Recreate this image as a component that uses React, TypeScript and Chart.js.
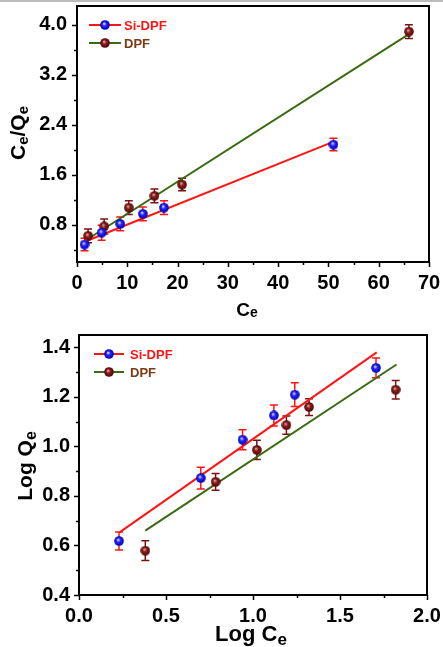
import React, { useEffect, useRef } from "react";
import { Chart, registerables } from "chart.js";

Chart.register(...registerables);

const FONT = "'Liberation Sans', Arial, Helvetica, sans-serif";

// ---------- Top panel: Ce/Qe vs Ce ----------
const topSiX = [1.5, 4.9, 8.6, 13.1, 17.3, 51.0];
const topSiY = [0.48, 0.67, 0.81, 0.97, 1.07, 2.08];
const topSiErr = [0.1, 0.12, 0.11, 0.11, 0.11, 0.1];
const topDpfX = [2.2, 5.4, 10.3, 15.4, 20.9, 66.0];
const topDpfY = [0.62, 0.77, 1.07, 1.26, 1.44, 3.89];
const topDpfErr = [0.11, 0.12, 0.11, 0.11, 0.1, 0.11];
const topSiFitX = [2.0, 50.8];
const topSiFitY = [0.54, 2.12];
const topDpfFitX = [2.0, 66.0];
const topDpfFitY = [0.56, 3.85];
const topXTicks = [0, 10, 20, 30, 40, 50, 60, 70];
const topXTickLabels = ["0", "10", "20", "30", "40", "50", "60", "70"];
const topXMinor = [5, 15, 25, 35, 45, 55, 65];
const topYTicks = [0.8, 1.6, 2.4, 3.2, 4.0];
const topYTickLabels = ["0.8", "1.6", "2.4", "3.2", "4.0"];
const topYMinor = [0.4, 1.2, 2.0, 2.8, 3.6];

// ---------- Bottom panel: Log Qe vs Log Ce ----------
const botSiX = [0.23, 0.7, 0.94, 1.12, 1.24, 1.707];
const botSiY = [0.618, 0.872, 1.027, 1.125, 1.209, 1.317];
const botSiErr = [0.036, 0.044, 0.04, 0.042, 0.048, 0.04];
const botDpfX = [0.381, 0.785, 1.022, 1.192, 1.322, 1.82];
const botDpfY = [0.579, 0.857, 0.986, 1.086, 1.159, 1.229];
const botDpfErr = [0.04, 0.034, 0.039, 0.037, 0.034, 0.037];
const botSiFitX = [0.235, 1.711];
const botSiFitY = [0.654, 1.38];
const botDpfFitX = [0.381, 1.825];
const botDpfFitY = [0.66, 1.331];
const botXTicks = [0, 0.5, 1.0, 1.5, 2.0];
const botXTickLabels = ["0.0", "0.5", "1.0", "1.5", "2.0"];
const botXMinor = [0.25, 0.75, 1.25, 1.75];
const botYTicks = [0.4, 0.6, 0.8, 1.0, 1.2, 1.4];
const botYTickLabels = ["0.4", "0.6", "0.8", "1.0", "1.2", "1.4"];
const botYMinor = [0.5, 0.7, 0.9, 1.1, 1.3];

const seriesNames = ["Si-DPF", "DPF"];

const RED = "#ff1414";
const GREEN = "#3a6a12";
const MAROON = "#7c1212";
const LEG_DPF_TEXT = "#7b3a12";

type Part = { t: string; size: number; dy?: number };

function makeBall(light: string, base: string, dark: string): HTMLCanvasElement {
  const d = 10;
  const c = document.createElement("canvas");
  c.width = d;
  c.height = d;
  const g = c.getContext("2d")!;
  const r = d / 2 - 0.2;
  const grad = g.createRadialGradient(d * 0.4, d * 0.36, 0.2, d / 2, d / 2, r);
  grad.addColorStop(0, light);
  grad.addColorStop(0.4, base);
  grad.addColorStop(1, dark);
  g.fillStyle = grad;
  g.beginPath();
  g.arc(d / 2, d / 2, r, 0, Math.PI * 2);
  g.fill();
  return c;
}

function drawRich(ctx: CanvasRenderingContext2D, parts: Part[], cx: number, cy: number, rotate: boolean) {
  ctx.save();
  ctx.translate(cx, cy);
  if (rotate) ctx.rotate(-Math.PI / 2);
  let total = 0;
  for (const p of parts) {
    ctx.font = `bold ${p.size}px ${FONT}`;
    total += ctx.measureText(p.t).width;
  }
  let x = -total / 2;
  ctx.textAlign = "left";
  ctx.textBaseline = "alphabetic";
  ctx.fillStyle = "#000";
  for (const p of parts) {
    ctx.font = `bold ${p.size}px ${FONT}`;
    ctx.fillText(p.t, x, p.dy || 0);
    x += ctx.measureText(p.t).width;
  }
  ctx.restore();
}

interface PanelCfg {
  height: number;
  top: number;
  xMin: number;
  xMax: number;
  yMin: number;
  yMax: number;
  xTicks: number[];
  xTickLabels: string[];
  xMinor: number[];
  yTicks: number[];
  yTickLabels: string[];
  yMinor: number[];
  siX: number[];
  siY: number[];
  siErr: number[];
  dpfX: number[];
  dpfY: number[];
  dpfErr: number[];
  siFitX: number[];
  siFitY: number[];
  dpfFitX: number[];
  dpfFitY: number[];
  yAxisWidth: number;
  xAxisHeight: number;
  padTop: number;
  padRight: number;
  xLabelPad: number;
  yLabelPad: number;
  xTitle: Part[];
  xTitlePos: [number, number];
  yTitle: Part[];
  yTitlePos: [number, number];
  legend: { x0: number; x1: number; tx: number; y0: number; y1: number };
}

const topCfg: PanelCfg = {
  height: 320,
  top: 0,
  xMin: 0,
  xMax: 70,
  yMin: 0.2,
  yMax: 4.3,
  xTicks: topXTicks,
  xTickLabels: topXTickLabels,
  xMinor: topXMinor,
  yTicks: topYTicks,
  yTickLabels: topYTickLabels,
  yMinor: topYMinor,
  siX: topSiX,
  siY: topSiY,
  siErr: topSiErr,
  dpfX: topDpfX,
  dpfY: topDpfY,
  dpfErr: topDpfErr,
  siFitX: topSiFitX,
  siFitY: topSiFitY,
  dpfFitX: topDpfFitX,
  dpfFitY: topDpfFitY,
  yAxisWidth: 77,
  xAxisHeight: 58,
  padTop: 5,
  padRight: 14,
  xLabelPad: 9,
  yLabelPad: 10,
  xTitle: [
    { t: "C", size: 19 },
    { t: "e", size: 14, dy: 1 },
  ],
  xTitlePos: [247, 316],
  yTitle: [
    { t: "C", size: 21 },
    { t: "e", size: 15, dy: 3 },
    { t: "/Q", size: 21 },
    { t: "e", size: 15, dy: 3 },
  ],
  yTitlePos: [25, 133],
  legend: { x0: 89, x1: 121, tx: 124, y0: 25, y1: 43 },
};

const botCfg: PanelCfg = {
  height: 327,
  top: 320,
  xMin: 0,
  xMax: 2.0,
  yMin: 0.4,
  yMax: 1.45,
  xTicks: botXTicks,
  xTickLabels: botXTickLabels,
  xMinor: botXMinor,
  yTicks: botYTicks,
  yTickLabels: botYTickLabels,
  yMinor: botYMinor,
  siX: botSiX,
  siY: botSiY,
  siErr: botSiErr,
  dpfX: botDpfX,
  dpfY: botDpfY,
  dpfErr: botDpfErr,
  siFitX: botSiFitX,
  siFitY: botSiFitY,
  dpfFitX: botDpfFitX,
  dpfFitY: botDpfFitY,
  yAxisWidth: 79,
  xAxisHeight: 52,
  padTop: 15,
  padRight: 16,
  xLabelPad: 9,
  yLabelPad: 9,
  xTitle: [
    { t: "Log C", size: 22 },
    { t: "e", size: 17, dy: 4 },
  ],
  xTitlePos: [251, 321],
  yTitle: [
    { t: "Log Q", size: 21 },
    { t: "e", size: 16, dy: 4 },
  ],
  yTitlePos: [32, 146],
  legend: { x0: 94, x1: 124, tx: 130, y0: 34, y1: 52 },
};

function Panel({ cfg }: { cfg: PanelCfg }) {
  const ref = useRef<HTMLCanvasElement>(null);
  useEffect(() => {
    const canvas = ref.current;
    if (!canvas) return;
    const blueBall = makeBall("#e8e8ff", "#2626ff", "#0000b0");
    const brownBall = makeBall("#e8b0b0", "#8e1c1c", "#4e0606");

    const pts = (xs: number[], ys: number[]) => xs.map((x, i) => ({ x, y: ys[i] }));

    const decor = {
      id: "decor",
      beforeDatasetsDraw(chart: any) {
        const ctx: CanvasRenderingContext2D = chart.ctx;
        const xs = chart.scales.x;
        const ys = chart.scales.y;
        const bars = [
          { x: cfg.siX, y: cfg.siY, e: cfg.siErr, c: RED },
          { x: cfg.dpfX, y: cfg.dpfY, e: cfg.dpfErr, c: MAROON },
        ];
        ctx.save();
        ctx.lineWidth = 1.5;
        for (const b of bars) {
          ctx.strokeStyle = b.c;
          b.x.forEach((xv, i) => {
            const px = xs.getPixelForValue(xv);
            const p1 = ys.getPixelForValue(b.y[i] + b.e[i]);
            const p2 = ys.getPixelForValue(b.y[i] - b.e[i]);
            ctx.beginPath();
            ctx.moveTo(px, p1);
            ctx.lineTo(px, p2);
            ctx.moveTo(px - 4, p1);
            ctx.lineTo(px + 4, p1);
            ctx.moveTo(px - 4, p2);
            ctx.lineTo(px + 4, p2);
            ctx.stroke();
          });
        }
        ctx.restore();
      },
      afterDraw(chart: any) {
        const ctx: CanvasRenderingContext2D = chart.ctx;
        const a = chart.chartArea;
        const xs = chart.scales.x;
        const ys = chart.scales.y;
        ctx.save();
        ctx.strokeStyle = "#000";
        ctx.lineWidth = 2;
        ctx.strokeRect(a.left, a.top, a.right - a.left, a.bottom - a.top);
        ctx.lineWidth = 1.5;
        ctx.beginPath();
        for (const v of cfg.xTicks) {
          const p = Math.round(xs.getPixelForValue(v)) + 0.5;
          ctx.moveTo(p, a.bottom);
          ctx.lineTo(p, a.bottom + 5);
        }
        for (const v of cfg.xMinor) {
          const p = Math.round(xs.getPixelForValue(v)) + 0.5;
          ctx.moveTo(p, a.bottom);
          ctx.lineTo(p, a.bottom + 3);
        }
        for (const v of cfg.yTicks) {
          const p = Math.round(ys.getPixelForValue(v)) + 0.5;
          ctx.moveTo(a.left, p);
          ctx.lineTo(a.left - 5, p);
        }
        for (const v of cfg.yMinor) {
          const p = Math.round(ys.getPixelForValue(v)) + 0.5;
          ctx.moveTo(a.left, p);
          ctx.lineTo(a.left - 3, p);
        }
        ctx.stroke();

        // legend
        const L = cfg.legend;
        const rows = [
          { y: L.y0, line: RED, ball: blueBall, text: seriesNames[0], tc: RED },
          { y: L.y1, line: GREEN, ball: brownBall, text: seriesNames[1], tc: LEG_DPF_TEXT },
        ];
        for (const r of rows) {
          ctx.strokeStyle = r.line;
          ctx.lineWidth = 2;
          ctx.beginPath();
          ctx.moveTo(L.x0, r.y);
          ctx.lineTo(L.x1, r.y);
          ctx.stroke();
          const cx = (L.x0 + L.x1) / 2;
          ctx.drawImage(r.ball, cx - 5, r.y - 5, 10, 10);
          ctx.font = `bold 13px ${FONT}`;
          ctx.fillStyle = r.tc;
          ctx.textAlign = "left";
          ctx.textBaseline = "middle";
          ctx.fillText(r.text, L.tx, r.y + 1);
        }
        ctx.restore();

        drawRich(ctx, cfg.xTitle, cfg.xTitlePos[0], cfg.xTitlePos[1], false);
        drawRich(ctx, cfg.yTitle, cfg.yTitlePos[0], cfg.yTitlePos[1], true);
      },
    };

    const tickFont = { family: FONT, size: 20, weight: "bold" as const };

    const chart = new Chart(canvas, {
      type: "scatter",
      data: {
        datasets: [
          {
            label: seriesNames[0],
            data: pts(cfg.siX, cfg.siY),
            pointStyle: blueBall as any,
            pointRadius: 5,
            order: 0,
          },
          {
            label: seriesNames[1],
            data: pts(cfg.dpfX, cfg.dpfY),
            pointStyle: brownBall as any,
            pointRadius: 5,
            order: 0,
          },
          {
            label: seriesNames[0] + " fit",
            data: pts(cfg.siFitX, cfg.siFitY),
            showLine: true,
            borderColor: RED,
            borderWidth: 2,
            pointRadius: 0,
            order: 2,
          },
          {
            label: seriesNames[1] + " fit",
            data: pts(cfg.dpfFitX, cfg.dpfFitY),
            showLine: true,
            borderColor: GREEN,
            borderWidth: 2,
            pointRadius: 0,
            order: 2,
          },
        ],
      },
      options: {
        animation: false,
        responsive: false,
        devicePixelRatio: 1,
        events: [],
        layout: { padding: { top: cfg.padTop, right: cfg.padRight, left: 0, bottom: 0 } },
        plugins: { legend: { display: false }, tooltip: { enabled: false } },
        scales: {
          x: {
            type: "linear",
            min: cfg.xMin,
            max: cfg.xMax,
            grid: { display: false, drawTicks: false },
            border: { display: false },
            afterBuildTicks: (s: any) => {
              s.ticks = cfg.xTicks.map((v) => ({ value: v }));
            },
            afterFit: (s: any) => {
              s.height = cfg.xAxisHeight;
              s.paddingLeft = 0;
              s.paddingRight = 0;
              s.paddingTop = 0;
              s.paddingBottom = 0;
            },
            ticks: {
              autoSkip: false,
              maxRotation: 0,
              minRotation: 0,
              padding: cfg.xLabelPad,
              color: "#000",
              font: tickFont,
              callback: (_v: any, i: number) => cfg.xTickLabels[i],
            },
          },
          y: {
            type: "linear",
            min: cfg.yMin,
            max: cfg.yMax,
            grid: { display: false, drawTicks: false },
            border: { display: false },
            afterBuildTicks: (s: any) => {
              s.ticks = cfg.yTicks.map((v) => ({ value: v }));
            },
            afterFit: (s: any) => {
              s.width = cfg.yAxisWidth;
              s.paddingLeft = 0;
              s.paddingRight = 0;
              s.paddingTop = 0;
              s.paddingBottom = 0;
            },
            ticks: {
              autoSkip: false,
              padding: cfg.yLabelPad,
              color: "#000",
              font: tickFont,
              callback: (_v: any, i: number) => cfg.yTickLabels[i],
            },
          },
        },
      },
      plugins: [decor],
    });
    return () => chart.destroy();
  }, [cfg]);

  return (
    <canvas
      ref={ref}
      width={443}
      height={cfg.height}
      style={{ position: "absolute", left: 0, top: cfg.top, width: 443, height: cfg.height }}
    />
  );
}

export default function App() {
  return (
    <div style={{ position: "absolute", left: 0, top: 0, width: 443, height: 647, background: "#fff", overflow: "hidden" }}>
      <div style={{ position: "absolute", left: 0, top: 0, width: 443, height: 2, background: "#bcbcbc" }} />
      <Panel cfg={topCfg} />
      <Panel cfg={botCfg} />
    </div>
  );
}
